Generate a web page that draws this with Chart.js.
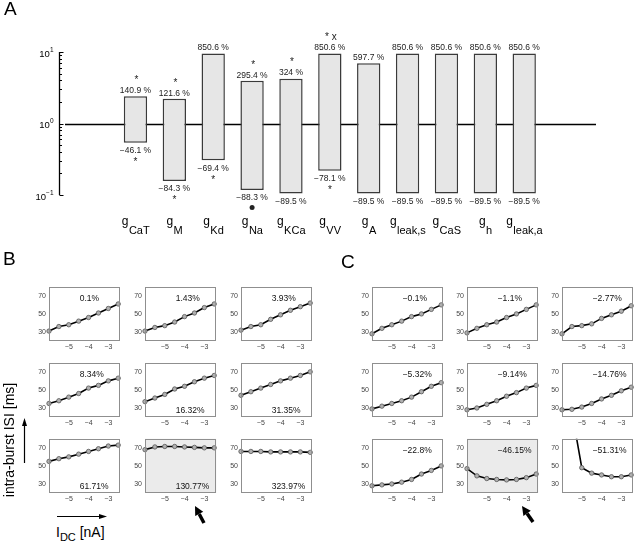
<!DOCTYPE html>
<html>
<head>
<meta charset="utf-8">
<script src="https://cdn.jsdelivr.net/npm/chart.js@4.4.0/dist/chart.umd.min.js"></script>
<style>
body { margin: 0; background: #fff; }
#fig { position: relative; width: 638px; height: 545px; overflow: hidden; font-family: "Liberation Sans", Arial, sans-serif; }
#fig canvas { position: absolute; }
.lbl { position: absolute; line-height: 1; color: #000; white-space: nowrap; }
</style>
</head>
<body>
<div id="fig">
  <canvas id="panelA" width="638" height="250" style="left:0;top:0"></canvas>
  <div class="lbl" style="left:4px;top:-1px;font-size:19px">A</div>
  <div class="lbl" style="left:3px;top:249px;font-size:19px">B</div>
  <div class="lbl" style="left:341px;top:252px;font-size:19px">C</div>
  <div class="lbl" style="left:9px;top:440px;font-size:14px;transform:translate(-50%,-50%) rotate(-90deg)">intra-burst ISI [ms]</div>
  <div class="lbl" style="left:56px;top:525px;font-size:14px">I<span style="font-size:11px;position:relative;top:4px">DC</span> [nA]</div>
</div>
<script>
// Panel A: robustness range of each conductance (% change from control)
const condNames = ['CaT', 'M', 'Kd', 'Na', 'KCa', 'VV', 'A', 'leak,s', 'CaS', 'h', 'leak,a'];
const upPct = [140.9, 121.6, 850.6, 295.4, 324, 850.6, 597.7, 850.6, 850.6, 850.6, 850.6];
const downPct = [-46.1, -84.3, -69.4, -88.3, -89.5, -78.1, -89.5, -89.5, -89.5, -89.5, -89.5];
const upMarks = ['*', '*', '', '*', '*', '* x', '', '', '', '', ''];
const downMarks = ['*', '*', '*', 'dot', '', '*', '', '', '', '', ''];
const logDecades = [0.1, 1, 10];
const logExponents = ['\u22121', '0', '1'];

// Panels B and C: intra-burst ISI vs I_DC
const idc = [-6, -5.5, -5, -4.5, -4, -3.5, -3, -2.5];
const isiTicks = [30, 50, 70];
const idcTicks = [-5, -4, -3];

const bSeries = [
    [31, 36, 38, 42, 46, 51, 56, 61],
    [31, 35, 37, 41, 47, 51, 57, 61],
    [32, 36, 38, 44, 49, 54, 58, 62],
    [35, 38, 42, 46, 52, 55, 60, 63],
    [37, 41, 45, 51, 54, 59, 63, 66],
    [44, 48, 52, 56, 60, 63, 66, 70],
    [55, 58, 60, 63, 66, 69, 72, 73],
    [68, 71, 71.5, 71.5, 71, 70.5, 70, 70],
    [66, 66, 66, 65.5, 65.5, 65.5, 65.5, 65]
];
const bLabels = ['0.1%', '1.43%', '3.93%', '8.34%', '16.32%', '31.35%', '61.71%', '130.77%', '323.97%'];

const cSeries = [
    [28, 34, 38, 42, 47, 50, 55, 60],
    [29, 34, 38, 41, 46, 50, 55, 60],
    [28, 36, 37, 39, 45, 49, 53, 59],
    [29, 32, 35, 38, 42, 48, 54, 58],
    [28, 30, 34, 38, 43, 47, 52, 55],
    [28, 28.5, 31, 35, 40, 44, 49, 53],
    [28, 29, 30, 32, 35, 41, 45, 50],
    [47, 39, 36, 35, 34.5, 35, 37, 41],
    [170, 110, 48, 42, 40, 38, 38, 40]
];
const cLabels = ['\u22120.1%', '\u22121.1%', '\u22122.77%', '\u22125.32%', '\u22129.14%', '\u221214.76%', '\u221222.8%', '\u221246.15%', '\u221251.31%'];

// Layout (pixels) and label placement
const FONT = '"Liberation Sans", Arial, sans-serif';
const BOX_W = 72, BOX_H = 56;
const colsB = [49, 145, 241];
const colsC = [372, 467, 562];
const rows = [285, 361, 437];
const bLabelY = [67, 67, 67, 67, 27.5, 27.5, 27.5, 27.5, 27.5];
const cLabelY = [67, 67, 67, 67, 67, 67, 67, 67, 67];
const LABEL_X = -4.45;
const SHADED = 7;

Chart.defaults.font.family = FONT;
Chart.defaults.animation = false;
Chart.defaults.responsive = false;
Chart.defaults.devicePixelRatio = 1;
Chart.defaults.plugins.legend.display = false;
Chart.defaults.plugins.tooltip.enabled = false;

function minus(s) {
    return String(s).replace('-', '\u2212');
}

// Panel A decorations: baseline, log axis, bar annotations, g labels
const aDecor = {
    id: 'aDecor',
    beforeDatasetsDraw(chart) {
        const { ctx, chartArea, scales: { y } } = chart;
        const yy = Math.round(y.getPixelForValue(1)) + 0.5;
        ctx.save();
        ctx.strokeStyle = '#000';
        ctx.lineWidth = 1.3;
        ctx.beginPath();
        ctx.moveTo(chartArea.left + 6, yy);
        ctx.lineTo(chartArea.right, yy);
        ctx.stroke();
        ctx.restore();
    },
    afterDraw(chart) {
        const { ctx, chartArea, scales: { x, y } } = chart;
        const ax = Math.round(chartArea.left) + 0.5;
        ctx.save();
        ctx.strokeStyle = '#000';
        ctx.lineWidth = 1.3;
        ctx.beginPath();
        ctx.moveTo(ax, y.getPixelForValue(10));
        ctx.lineTo(ax, y.getPixelForValue(0.1));
        ctx.stroke();

        // inward ticks
        ctx.lineWidth = 1;
        for (let e = -1; e <= 1; e++) {
            for (let m = 1; m <= 9; m++) {
                const v = m * Math.pow(10, e);
                if (v > 10.001) break;
                const py = Math.round(y.getPixelForValue(v)) + 0.5;
                const len = m === 1 ? 4 : 2.5;
                ctx.beginPath();
                ctx.moveTo(ax, py);
                ctx.lineTo(ax + len, py);
                ctx.stroke();
            }
        }

        // decade labels
        ctx.fillStyle = '#000';
        logDecades.forEach((v, i) => {
            const py = y.getPixelForValue(v);
            ctx.font = '6.5px ' + FONT;
            const ws = ctx.measureText(logExponents[i]).width;
            ctx.textAlign = 'left';
            ctx.textBaseline = 'alphabetic';
            const right = ax - 6;
            ctx.fillText(logExponents[i], right - ws, py - 0.5);
            ctx.font = '9.5px ' + FONT;
            ctx.textAlign = 'right';
            ctx.textBaseline = 'middle';
            ctx.fillText('10', right - ws, py + 2);
        });

        // bar annotations
        const meta = chart.getDatasetMeta(0);
        meta.data.forEach((bar, i) => {
            const top = Math.min(bar.y, bar.base);
            const bot = Math.max(bar.y, bar.base);
            ctx.textAlign = 'center';
            ctx.textBaseline = 'middle';
            ctx.fillStyle = '#222';
            ctx.font = '8.5px ' + FONT;
            ctx.fillText(minus(upPct[i]) + ' %', bar.x, top - 5.5);
            ctx.fillText(minus(downPct[i]) + ' %', bar.x, bot + 8);
            ctx.font = '10px ' + FONT;
            if (upMarks[i]) ctx.fillText(upMarks[i], bar.x + 1, top - 16);
            if (downMarks[i] === 'dot') {
                ctx.beginPath();
                ctx.arc(bar.x, bot + 17.5, 2.5, 0, Math.PI * 2);
                ctx.fill();
            } else if (downMarks[i]) {
                ctx.fillText(downMarks[i], bar.x, bot + 19.5);
            }
        });

        // g_x category labels
        ctx.fillStyle = '#000';
        ctx.textAlign = 'left';
        ctx.textBaseline = 'alphabetic';
        condNames.forEach((n, i) => {
            const cx = x.getPixelForValue(i + 1);
            ctx.font = '12px ' + FONT;
            const wg = ctx.measureText('g').width;
            ctx.font = '11px ' + FONT;
            const wn = ctx.measureText(n).width;
            const x0 = cx - (wg + wn) / 2;
            ctx.font = '12px ' + FONT;
            ctx.fillText('g', x0, 225);
            ctx.font = '11px ' + FONT;
            ctx.fillText(n, x0 + wg + 0.5, 233.5);
        });
        ctx.restore();
    }
};

new Chart(document.getElementById('panelA'), {
    type: 'bar',
    data: {
        datasets: [{
            data: condNames.map((n, i) => ({ x: i + 1, y: [1 + downPct[i] / 100, 1 + upPct[i] / 100] })),
            backgroundColor: '#e6e6e6',
            borderColor: '#3a3a3a',
            borderWidth: 1.5,
            borderSkipped: false,
            barPercentage: 0.6,
            categoryPercentage: 1
        }]
    },
    options: {
        layout: { padding: { left: 59, right: 42, top: 52, bottom: 55 } },
        scales: {
            x: { type: 'linear', min: 0.02, max: 11.86, display: false },
            y: { type: 'logarithmic', min: 0.1, max: 10, display: false }
        }
    },
    plugins: [aDecor]
});

// Small panels
const boxDecor = {
    id: 'boxDecor',
    beforeDraw(chart, args, opts) {
        const { ctx, chartArea: a } = chart;
        ctx.save();
        ctx.fillStyle = opts.shaded ? '#ebebeb' : '#ffffff';
        ctx.fillRect(a.left, a.top, a.right - a.left, a.bottom - a.top);
        ctx.restore();
    },
    afterDraw(chart, args, opts) {
        const { ctx, chartArea: a, scales: { x, y } } = chart;
        ctx.save();
        ctx.strokeStyle = '#8f8f8f';
        ctx.lineWidth = 1;
        ctx.strokeRect(Math.round(a.left) + 0.5, Math.round(a.top) + 0.5,
            Math.round(a.right - a.left) - 1, Math.round(a.bottom - a.top) - 1);
        ctx.fillStyle = '#111';
        ctx.font = '8.5px ' + FONT;
        ctx.textAlign = 'left';
        ctx.textBaseline = 'middle';
        ctx.fillText(opts.text, x.getPixelForValue(LABEL_X), y.getPixelForValue(opts.labelY));
        ctx.restore();
    }
};

const fig = document.getElementById('fig');

function smallChart(left, top, series, text, labelY, shaded) {
    const cv = document.createElement('canvas');
    cv.width = BOX_W + 26;
    cv.height = BOX_H + 17;
    cv.style.left = (left - 22) + 'px';
    cv.style.top = (top - 3) + 'px';
    fig.appendChild(cv);
    new Chart(cv, {
        type: 'line',
        data: {
            datasets: [{
                data: idc.map((v, i) => ({ x: v, y: series[i] })),
                borderColor: '#000',
                borderWidth: 1.6,
                pointRadius: 2.2,
                pointBackgroundColor: '#b0b0b0',
                pointBorderColor: '#555',
                pointBorderWidth: 0.8,
                tension: 0,
                clip: { left: 4, right: 4, top: 0, bottom: 4 }
            }]
        },
        options: {
            layout: { padding: { top: 3, right: 4, left: 0, bottom: 0 } },
            scales: {
                x: {
                    type: 'linear', min: -6, max: -2.4,
                    afterBuildTicks: s => { s.ticks = idcTicks.map(v => ({ value: v })); },
                    afterFit: s => { s.height = 14; s.paddingLeft = 0; s.paddingRight = 0; },
                    grid: { display: false, drawTicks: false },
                    border: { display: false },
                    ticks: {
                        padding: 2, maxRotation: 0, autoSkip: false,
                        font: { size: 7 }, color: '#444',
                        callback: v => minus(v)
                    }
                },
                y: {
                    min: 20, max: 80,
                    afterBuildTicks: s => { s.ticks = isiTicks.map(v => ({ value: v })); },
                    afterFit: s => { s.width = 22; s.paddingTop = 0; s.paddingBottom = 0; },
                    grid: { display: false, drawTicks: false },
                    border: { display: false },
                    ticks: { padding: 3, autoSkip: false, font: { size: 7 }, color: '#444' }
                }
            },
            plugins: { boxDecor: { text: text, labelY: labelY, shaded: shaded } }
        },
        plugins: [boxDecor]
    });
}

for (let i = 0; i < 9; i++) {
    const r = Math.floor(i / 3), c = i % 3;
    smallChart(colsB[c], rows[r], bSeries[i], bLabels[i], bLabelY[i], i === SHADED);
    smallChart(colsC[c], rows[r], cSeries[i], cLabels[i], cLabelY[i], i === SHADED);
}

// Arrows
const ann = document.createElement('canvas');
ann.width = 638;
ann.height = 545;
ann.style.left = '0px';
ann.style.top = '0px';
fig.appendChild(ann);
const actx = ann.getContext('2d');

function arrow(ctx, x1, y1, x2, y2, lw, hl, hw) {
    const ang = Math.atan2(y2 - y1, x2 - x1);
    const bx = x2 - hl * Math.cos(ang), by = y2 - hl * Math.sin(ang);
    ctx.strokeStyle = '#000';
    ctx.fillStyle = '#000';
    ctx.lineWidth = lw;
    ctx.beginPath();
    ctx.moveTo(x1, y1);
    ctx.lineTo(bx, by);
    ctx.stroke();
    ctx.beginPath();
    ctx.moveTo(x2, y2);
    ctx.lineTo(bx + hw / 2 * Math.sin(ang), by - hw / 2 * Math.cos(ang));
    ctx.lineTo(bx - hw / 2 * Math.sin(ang), by + hw / 2 * Math.cos(ang));
    ctx.closePath();
    ctx.fill();
}

arrow(actx, 24.5, 463, 24.5, 418, 1.2, 8, 5);
arrow(actx, 57, 516.5, 107, 516.5, 1.2, 8, 5);
arrow(actx, 204, 523, 195, 506, 3.5, 9, 9);
arrow(actx, 533, 522, 522, 506, 3.5, 9, 9);
</script>
</body>
</html>
